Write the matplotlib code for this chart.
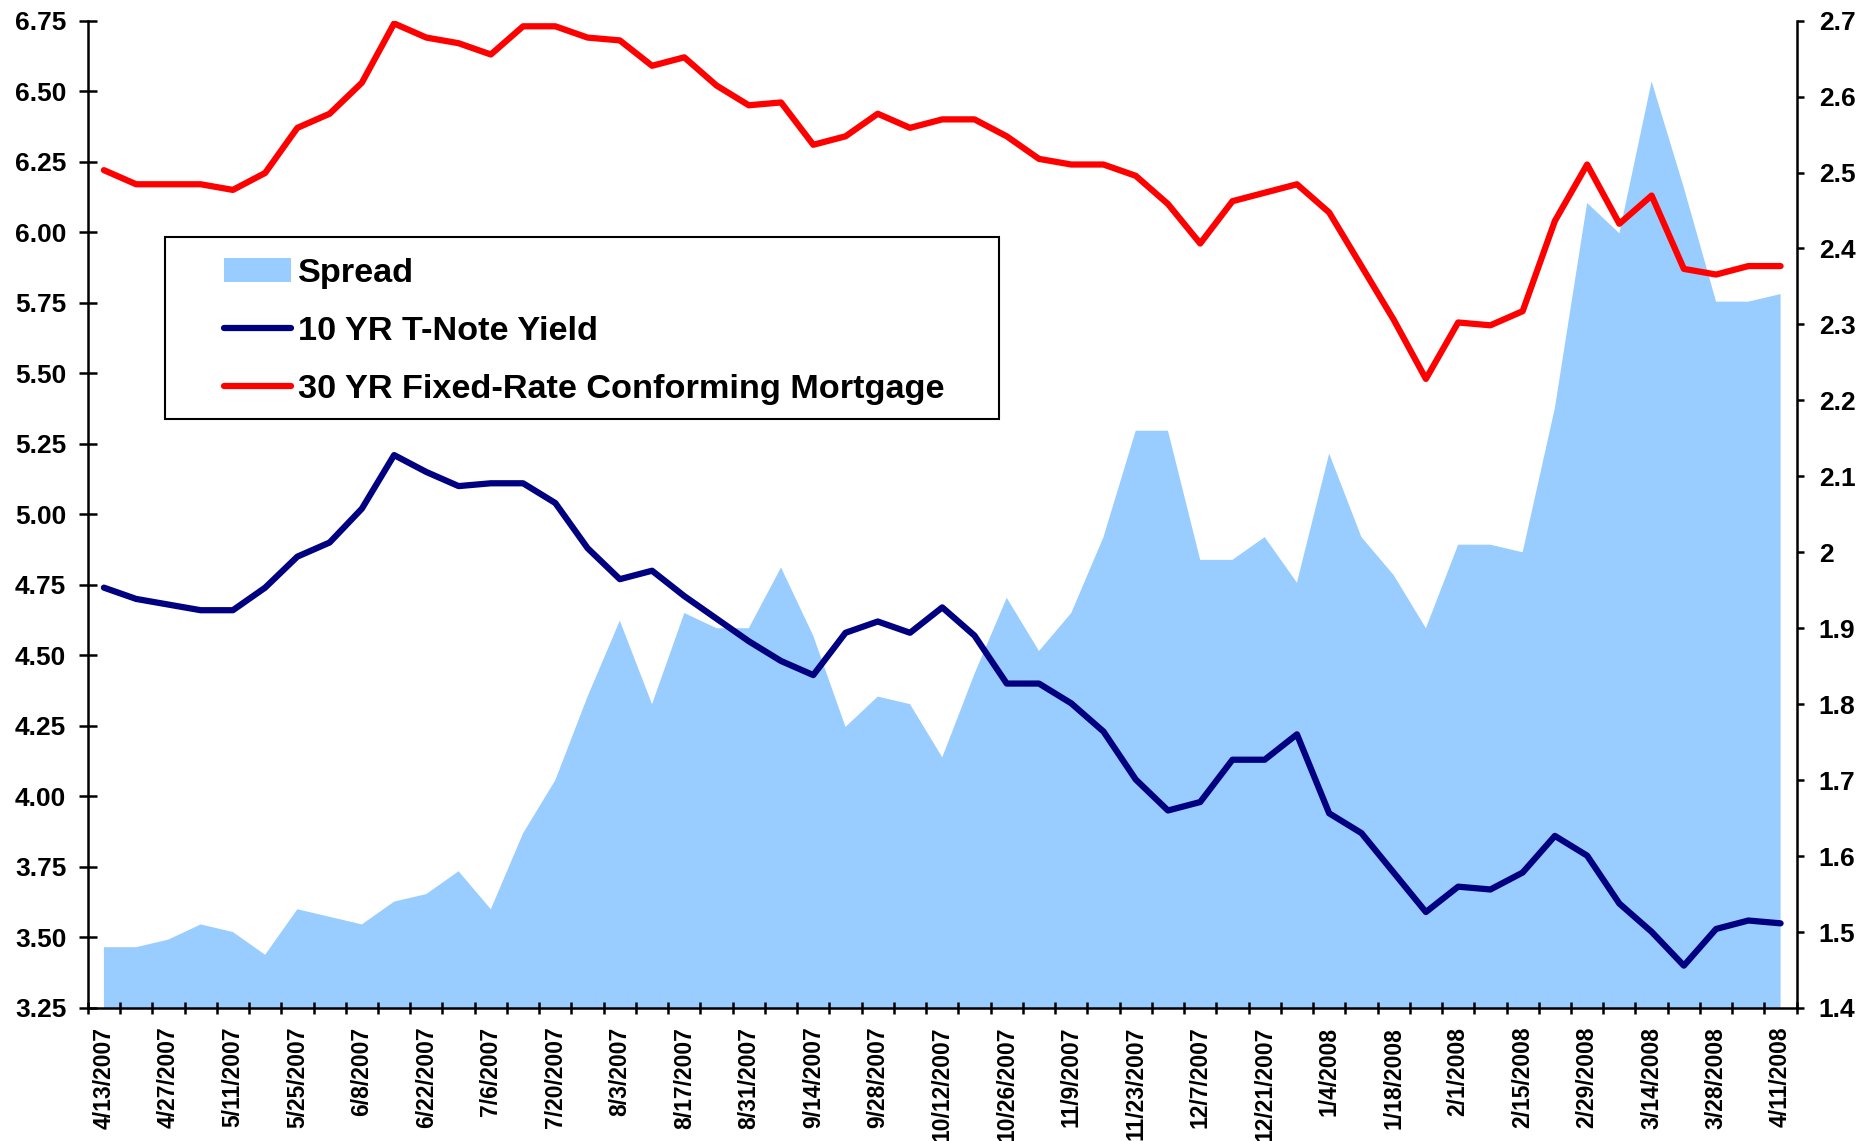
import matplotlib
matplotlib.use('Agg')
import matplotlib.pyplot as plt
from matplotlib.patches import Patch, Rectangle
from matplotlib.lines import Line2D
import numpy as np

plt.rcParams['font.family'] = ['Liberation Sans', 'DejaVu Sans']
plt.rcParams['font.weight'] = 'bold'

dates = [
    "4/13/2007", "4/20/2007", "4/27/2007", "5/4/2007", "5/11/2007", "5/18/2007", "5/25/2007",
    "6/1/2007", "6/8/2007", "6/15/2007", "6/22/2007", "6/29/2007", "7/6/2007", "7/13/2007",
    "7/20/2007", "7/27/2007", "8/3/2007", "8/10/2007", "8/17/2007", "8/24/2007", "8/31/2007",
    "9/7/2007", "9/14/2007", "9/21/2007", "9/28/2007", "10/5/2007", "10/12/2007", "10/19/2007",
    "10/26/2007", "11/2/2007", "11/9/2007", "11/16/2007", "11/23/2007", "11/30/2007", "12/7/2007",
    "12/14/2007", "12/21/2007", "12/28/2007", "1/4/2008", "1/11/2008", "1/18/2008", "1/25/2008",
    "2/1/2008", "2/8/2008", "2/15/2008", "2/22/2008", "2/29/2008", "3/7/2008", "3/14/2008",
    "3/21/2008", "3/28/2008", "4/4/2008", "4/11/2008",
]

mortgage = [6.22, 6.17, 6.17, 6.17, 6.15, 6.21, 6.37, 6.42, 6.53, 6.74,
            6.69, 6.67, 6.63, 6.73, 6.73, 6.69, 6.68, 6.59, 6.62, 6.52,
            6.45, 6.46, 6.31, 6.34, 6.42, 6.37, 6.40, 6.40, 6.34, 6.26,
            6.24, 6.24, 6.20, 6.10, 5.96, 6.11, 6.14, 6.17, 6.07, 5.88,
            5.69, 5.48, 5.68, 5.67, 5.72, 6.04, 6.24, 6.03, 6.13, 5.87,
            5.85, 5.88, 5.88]

yield10 = [4.74, 4.70, 4.68, 4.66, 4.66, 4.74, 4.85, 4.90, 5.02, 5.21,
           5.15, 5.10, 5.11, 5.11, 5.04, 4.88, 4.77, 4.80, 4.71, 4.63,
           4.55, 4.48, 4.43, 4.58, 4.62, 4.58, 4.67, 4.57, 4.40, 4.40,
           4.33, 4.23, 4.06, 3.95, 3.98, 4.13, 4.13, 4.22, 3.94, 3.87,
           3.73, 3.59, 3.68, 3.67, 3.73, 3.86, 3.79, 3.62, 3.52, 3.40,
           3.53, 3.56, 3.55]

spread = [1.48, 1.48, 1.49, 1.51, 1.50, 1.47, 1.53, 1.52, 1.51, 1.54,
          1.55, 1.58, 1.53, 1.63, 1.70, 1.81, 1.91, 1.80, 1.92, 1.90,
          1.90, 1.98, 1.89, 1.77, 1.81, 1.80, 1.73, 1.84, 1.94, 1.87,
          1.92, 2.02, 2.16, 2.16, 1.99, 1.99, 2.02, 1.96, 2.13, 2.02,
          1.97, 1.90, 2.01, 2.01, 2.00, 2.19, 2.46, 2.42, 2.62, 2.48,
          2.33, 2.33, 2.34]

series_names = ["Spread", "10 YR T-Note Yield", "30 YR Fixed-Rate Conforming Mortgage"]

SPREAD_C = '#99CCFF'
NAVY = '#000080'
RED = '#FF0000'
LW = 4.5
SPW = 1.8

fig = plt.figure(figsize=(18.64, 11.41), dpi=100)
ax = fig.add_axes([0.0471, 0.1166, 0.9168, 0.8653])
ax2 = ax.twinx()
ax.set_zorder(ax2.get_zorder() + 1)
ax.patch.set_visible(False)

x = np.arange(len(dates))
ax2.fill_between(x, 1.4, spread, facecolor=SPREAD_C, edgecolor='none')
ax.plot(x, yield10, color=NAVY, lw=LW, solid_capstyle='round')
ax.plot(x, mortgage, color=RED, lw=LW, solid_capstyle='round')

ax.set_xlim(-0.5, len(dates) - 0.5)
ax.set_ylim(3.25, 6.75)
ax2.set_ylim(1.4, 2.7)

lt = np.arange(3.25, 6.751, 0.25)
ax.set_yticks(lt)
ax.set_yticklabels([f"{v:.2f}" for v in lt])
rt = np.round(np.arange(1.4, 2.701, 0.1), 1)
ax2.set_yticks(rt)
ax2.set_yticklabels([f"{v:g}" for v in rt])

ax.set_xticks(np.arange(-0.5, len(dates), 1))
ax.set_xticklabels([])
ax.set_xticks(x[::2], minor=True)
ax.set_xticklabels(dates[::2], minor=True, rotation=90)

ax.tick_params(axis='x', which='major', direction='inout', length=9, width=SPW)
ax.tick_params(axis='x', which='minor', length=0, pad=13.5, labelsize=16.5)
ax.tick_params(axis='y', which='major', direction='inout', length=13, width=SPW,
               pad=9.0, labelsize=19)
ax2.tick_params(axis='y', which='major', direction='out', length=5, width=SPW,
                pad=10.8, labelsize=19)

for s in ['top', 'right']:
    ax.spines[s].set_visible(False)
for s in ['top', 'left', 'bottom']:
    ax2.spines[s].set_visible(False)
for s in ['left', 'bottom']:
    ax.spines[s].set_linewidth(SPW)
ax2.spines['right'].set_linewidth(SPW)

handles = [Patch(facecolor=SPREAD_C, edgecolor='none'),
           Line2D([], [], color=NAVY, lw=LW, solid_capstyle='round'),
           Line2D([], [], color=RED, lw=LW, solid_capstyle='round')]
frame = Rectangle((0.0449, 0.597), 0.4884, 0.1834, transform=ax.transAxes,
                  facecolor='white', edgecolor='black', lw=1.5, zorder=4)
ax.add_patch(frame)
leg = ax.legend(handles, series_names, loc='upper left', bbox_to_anchor=(0.0797, 0.7597),
                frameon=False, borderpad=0, borderaxespad=0, handlelength=1.95,
                handletextpad=0.22, labelspacing=0.79,
                prop={'size': 24.7, 'weight': 'bold'})
leg.set_zorder(5)

fig.savefig('out.png', dpi=100)
